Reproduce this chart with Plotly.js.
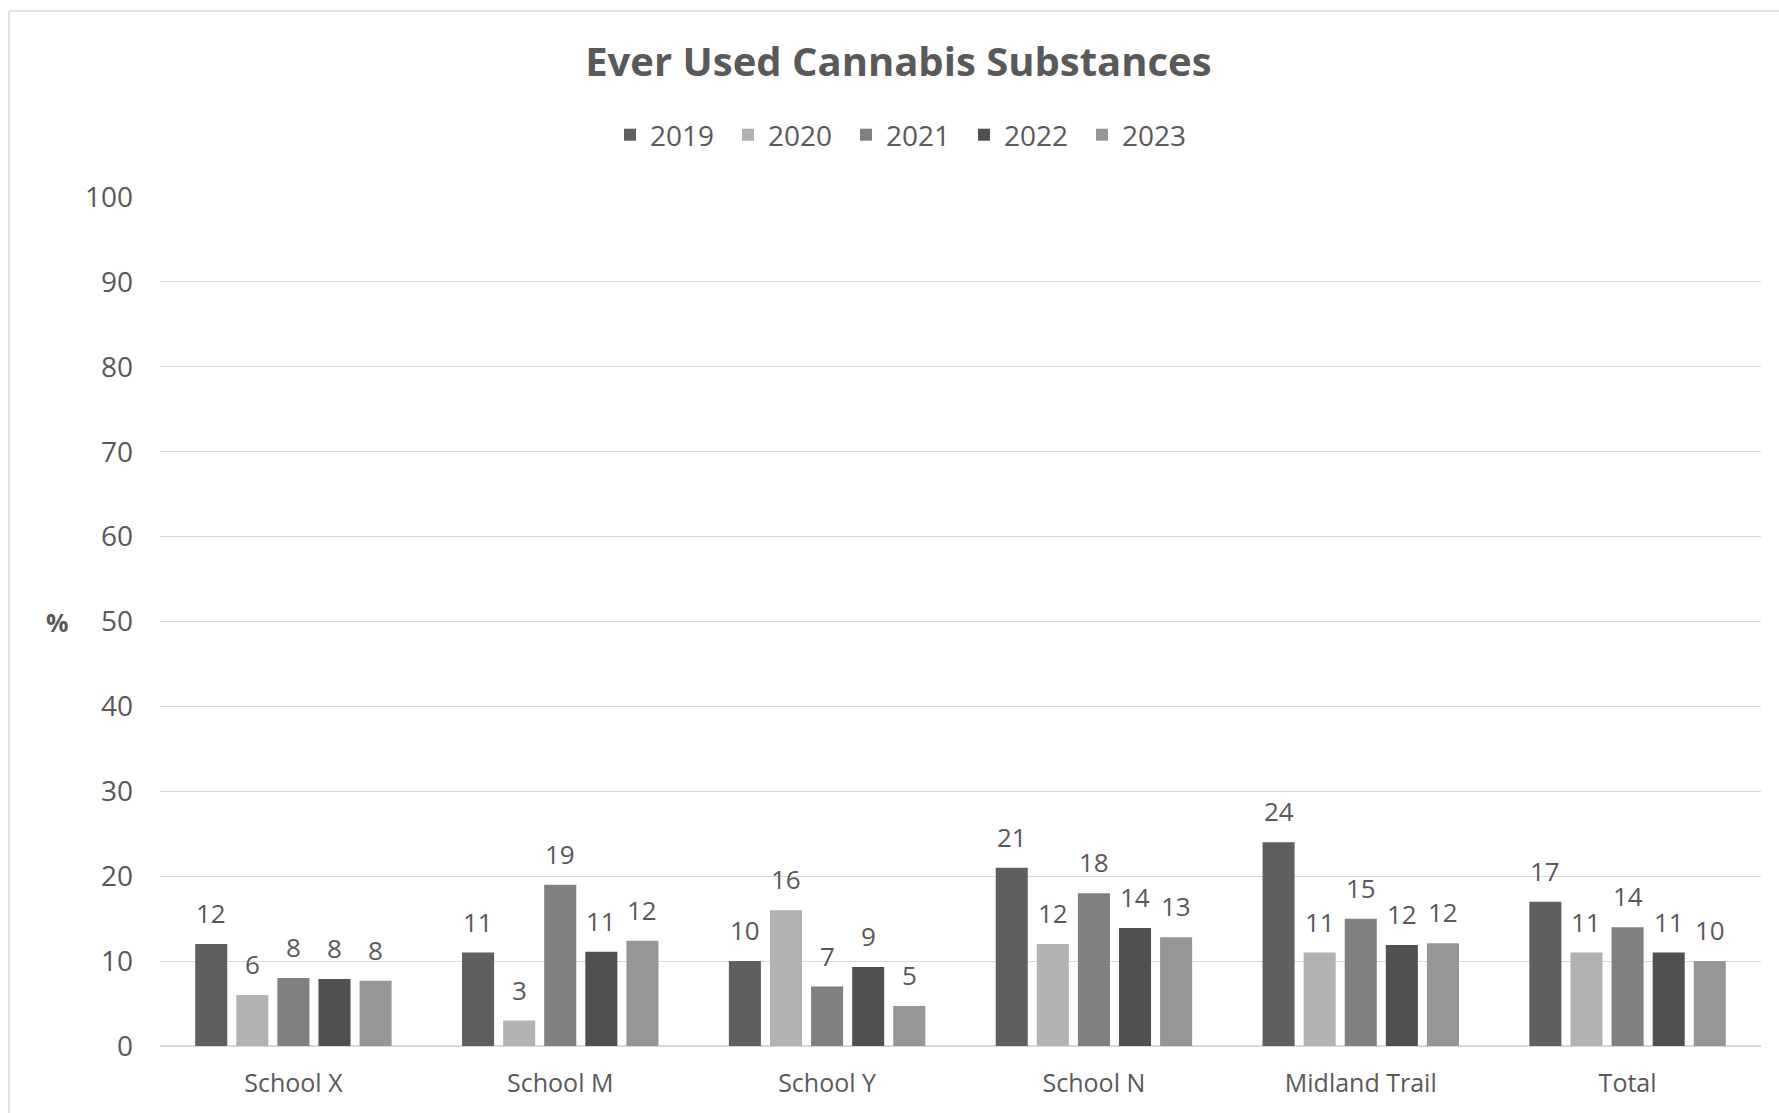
<!DOCTYPE html>
<html>
<head>
<meta charset="utf-8">
<script src="https://cdn.plot.ly/plotly-3.0.1.min.js"></script>
<style>
html,body{margin:0;padding:0;background:#fff;}
#chart{width:1779px;height:1113px;}
</style>
</head>
<body>
<div id="chart"></div>
<script>
// ---- data ----
const categories = ["School X", "School M", "School Y", "School N", "Midland Trail", "Total"];
const years = ["2019", "2020", "2021", "2022", "2023"];
const v2019 = [12, 11, 10, 21, 24, 17];
const v2020 = [6, 3, 16, 12, 11, 11];
const v2021 = [8, 19, 7, 18, 15, 14];
const v2022 = [7.9, 11.1, 9.3, 13.9, 11.9, 11];
const v2023 = [7.7, 12.4, 4.7, 12.8, 12.1, 10];
const series = [v2019, v2020, v2021, v2022, v2023];
const colors = ["#5f5f5f", "#b2b2b2", "#808080", "#505050", "#969696"];

// ---- layout constants ----
const W = 1779, H = 1113;
const M = {l: 160, r: 18, t: 197, b: 67};
const plotW = W - M.l - M.r, plotH = H - M.t - M.b;
const bargap = 0.23, bargroupgap = 0.22;
const font = "Open Sans, Noto Sans, sans-serif";
const txt = "#595959";

const traces = series.map((vals, i) => ({
  type: "bar",
  name: years[i],
  x: categories,
  y: vals,
  marker: {color: colors[i]},
  hoverinfo: "x+y+name"
}));

// data labels as annotations above each bar
const slot = (plotW / categories.length) * (1 - bargap) / series.length;
const annotations = [];
series.forEach((vals, i) => {
  vals.forEach((v, j) => {
    annotations.push({
      x: categories[j], y: v, xref: "x", yref: "y",
      text: String(Math.round(v)),
      showarrow: false,
      xanchor: "center", yanchor: "bottom",
      xshift: (i - (series.length - 1) / 2) * slot,
      yshift: 11,
      font: {family: font, size: 26, color: txt}
    });
  });
});
annotations.push({
  text: "<b>%</b>", xref: "paper", yref: "y",
  x: (57 - M.l) / plotW, y: 50, showarrow: false,
  xanchor: "center", yanchor: "middle",
  font: {family: font, size: 25, color: txt}
});

const layout = {
  width: W, height: H,
  margin: M,
  paper_bgcolor: "#ffffff",
  plot_bgcolor: "#ffffff",
  barmode: "group",
  bargap: bargap,
  bargroupgap: bargroupgap,
  font: {family: font, color: txt},
  title: {
    text: "<b>Ever Used Cannabis Substances</b>",
    xref: "container", yref: "container",
    x: 0.505, y: 1 - 62 / H, xanchor: "center", yanchor: "middle",
    font: {family: font, size: 40, color: txt}
  },
  showlegend: true,
  legend: {
    orientation: "h",
    x: (905 - M.l) / plotW, xanchor: "center",
    y: 1 + (M.t - 135) / plotH, yanchor: "middle",
    font: {family: font, size: 28, color: txt},
    itemwidth: 30,
    entrywidth: 73,
    traceorder: "normal",
    bgcolor: "rgba(0,0,0,0)"
  },
  xaxis: {
    type: "category",
    showgrid: false,
    showline: false,
    ticks: "",
    tickfont: {family: font, size: 25, color: txt},
    ticklabelstandoff: 20,
    fixedrange: true
  },
  yaxis: {
    range: [0, 100],
    dtick: 10,
    tick0: 0,
    showgrid: true,
    gridcolor: "#d9d9d9",
    gridwidth: 1,
    zeroline: true,
    zerolinecolor: "#d9d9d9",
    zerolinewidth: 2,
    showline: false,
    ticks: "",
    tickfont: {family: font, size: 28, color: txt},
    ticklabelstandoff: 26,
    fixedrange: true
  },
  annotations: annotations,
  shapes: [
    {type: "line", xref: "paper", yref: "paper",
     x0: (9 - M.l) / plotW, x1: (9 - M.l) / plotW,
     y0: 1 + (M.t - 11) / plotH, y1: -M.b / plotH,
     line: {color: "#d9d9d9", width: 1.5}},
    {type: "line", xref: "paper", yref: "paper",
     x0: (9 - M.l) / plotW, x1: (W - M.l) / plotW,
     y0: 1 + (M.t - 11) / plotH, y1: 1 + (M.t - 11) / plotH,
     line: {color: "#d9d9d9", width: 1.5}}
  ]
};

Plotly.newPlot("chart", traces, layout, {displayModeBar: false, staticPlot: true});
</script>
</body>
</html>
